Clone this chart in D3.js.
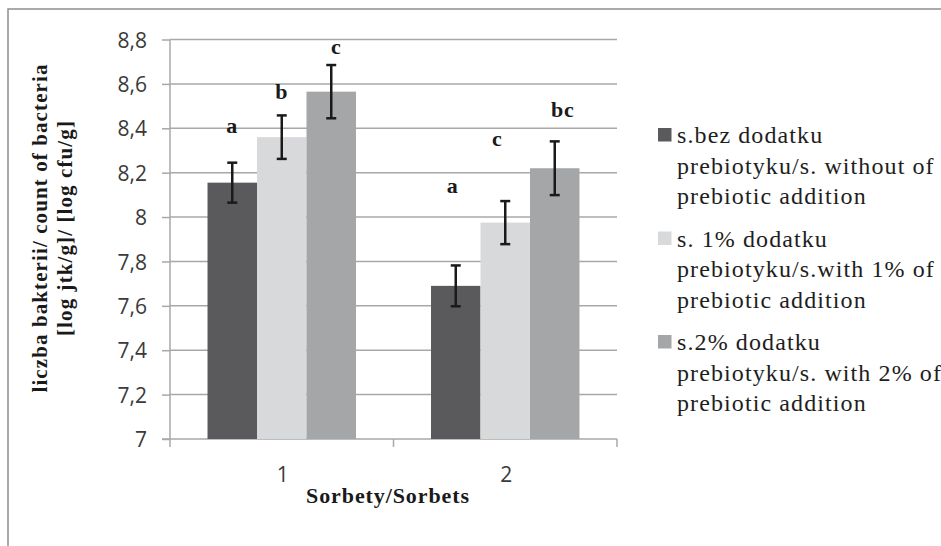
<!DOCTYPE html>
<html><head><meta charset="utf-8">
<script src="https://cdn.jsdelivr.net/npm/d3@7"></script>
<style>body{margin:0;background:#fff}svg{display:block}</style>
</head><body><svg id="c" width="941" height="546"></svg>
<script>
const categories = ["1", "2"];
const seriesNames = [
  ["s.bez dodatku", "prebiotyku/s. without of", "prebiotic addition"],
  ["s. 1% dodatku", "prebiotyku/s.with 1% of", "prebiotic addition"],
  ["s.2% dodatku", "prebiotyku/s. with 2% of", "prebiotic addition"]
];
const valuesWithout = [8.155, 7.69];
const values1pct = [8.36, 7.975];
const values2pct = [8.565, 8.22];
const errWithout = [0.09, 0.092];
const err1pct = [0.098, 0.097];
const err2pct = [0.12, 0.121];
const letters = [["a", "b", "c"], ["a", "c", "bc"]];
const letterLevels = [[8.377, 8.53, 8.733], [8.107, 8.319, 8.449]];
const yTicks = [7, 7.2, 7.4, 7.6, 7.8, 8, 8.2, 8.4, 8.6, 8.8];
const yTitle = ["liczba bakterii/ count of  bacteria", "[log jtk/g]/ [log cfu/g]"];
const xTitle = "Sorbety/Sorbets";

const seriesValues = [valuesWithout, values1pct, values2pct];
const seriesErr = [errWithout, err1pct, err2pct];
const colors = ["#5a5a5c", "#d8d9db", "#a5a6a8"];
const letterDx = [[0, 0, 5], [-3, -8, 8]];
const SERIF = "'Liberation Serif', 'Times New Roman', Times, serif";

const svg = d3.select("#c");
const L = 170, R = 617, T = 39.5, B = 439;
const y = d3.scaleLinear().domain([7, 8.8]).range([B, T]);
const x0 = d3.scaleBand().domain(categories).range([L, R]).paddingInner(0).paddingOuter(0);
const x1 = d3.scaleBand().domain([0, 1, 2]).range([0, x0.bandwidth()]).paddingInner(0).paddingOuter(0.758);

// outer border
svg.append("rect").attr("x", 8).attr("y", 9).attr("width", 1000).attr("height", 600)
  .attr("fill", "none").attr("stroke", "#8f8f8f").attr("stroke-width", 1.5);

// gridlines
svg.append("g").selectAll("line").data(yTicks.filter(t => t > 7)).join("line")
  .attr("x1", L).attr("x2", R).attr("y1", d => y(d)).attr("y2", d => y(d))
  .attr("stroke", "#a8a8a8").attr("stroke-width", 1.5);

// y axis
const yAxis = d3.axisLeft(y).tickValues(yTicks).tickSize(8).tickPadding(15)
  .tickFormat(d => String(+d.toFixed(1)).replace(".", ","));
const gy = svg.append("g").attr("transform", `translate(${L},0)`).call(yAxis);
gy.select(".domain").attr("stroke", "#a8a8a8").attr("stroke-width", 1.5).attr("d", `M0,${T}V${B}`);
gy.selectAll(".tick line").attr("stroke", "#a8a8a8").attr("stroke-width", 1.5);
gy.selectAll(".tick text").attr("font-family", "Open Sans").attr("font-size", 21)
  .attr("fill", "#3a3a3a").attr("dy", "0.36em");

// x axis
const gx = svg.append("g");
gx.append("line").attr("x1", L - 8).attr("x2", R).attr("y1", B).attr("y2", B)
  .attr("stroke", "#a8a8a8").attr("stroke-width", 1.5);
const bounds = categories.map(c => x0(c)).concat([x0(categories[categories.length - 1]) + x0.bandwidth()]);
gx.selectAll("line.tk").data(bounds).join("line").attr("class", "tk")
  .attr("x1", d => d).attr("x2", d => d).attr("y1", B).attr("y2", B + 8)
  .attr("stroke", "#a8a8a8").attr("stroke-width", 1.5);
gx.selectAll("text").data(categories).join("text")
  .attr("x", d => x0(d) + x0.bandwidth() / 2 + 1).attr("y", 482)
  .attr("text-anchor", "middle").attr("font-family", "Open Sans").attr("font-size", 21)
  .attr("fill", "#3a3a3a").text(d => d);

// bars
const groups = svg.append("g").selectAll("g").data(categories).join("g")
  .attr("transform", d => `translate(${x0(d)},0)`);
groups.each(function(c, ci) {
  const g = d3.select(this);
  const rows = seriesValues.map((vals, si) => ({ si, v: vals[ci], e: seriesErr[si][ci] }));
  g.selectAll("rect").data(rows).join("rect")
    .attr("x", d => x1(d.si)).attr("width", x1.bandwidth())
    .attr("y", d => y(d.v)).attr("height", d => y(7) - y(d.v))
    .attr("fill", d => colors[d.si]);
  const eb = g.selectAll("g.err").data(rows).join("g").attr("class", "err")
    .attr("transform", d => `translate(${x1(d.si) + x1.bandwidth() / 2},0)`);
  eb.append("line").attr("y1", d => y(d.v + d.e)).attr("y2", d => y(d.v - d.e));
  eb.append("line").attr("x1", -5).attr("x2", 5).attr("y1", d => y(d.v + d.e)).attr("y2", d => y(d.v + d.e));
  eb.append("line").attr("x1", -5).attr("x2", 5).attr("y1", d => y(d.v - d.e)).attr("y2", d => y(d.v - d.e));
  eb.selectAll("line").attr("stroke", "#1a1a1a").attr("stroke-width", 2.5);
  g.selectAll("text.lt").data(rows).join("text").attr("class", "lt")
    .attr("x", d => x1(d.si) + x1.bandwidth() / 2 + letterDx[ci][d.si])
    .attr("y", d => y(letterLevels[ci][d.si]))
    .attr("text-anchor", "middle").style("font-family", SERIF)
    .attr("font-weight", "bold").attr("font-size", 22).attr("letter-spacing", "0.8px")
    .attr("fill", "#1a1a1a")
    .text(d => letters[ci][d.si]);
});

// y title
const yt = svg.append("text").attr("transform", "translate(0,228) rotate(-90)")
  .attr("text-anchor", "middle").style("font-family", SERIF)
  .attr("font-weight", "bold").attr("font-size", 21).attr("fill", "#1a1a1a")
  .attr("letter-spacing", "1.1px");
yt.selectAll("tspan").data(yTitle).join("tspan")
  .attr("x", 0).attr("y", (d, i) => 47 + i * 25).text(d => d);

// x title
svg.append("text").attr("x", 388).attr("y", 503).attr("text-anchor", "middle")
  .style("font-family", SERIF).attr("font-weight", "bold").attr("font-size", 22)
  .attr("letter-spacing", "0.9px").attr("fill", "#1a1a1a").text(xTitle);

// legend
const lg = svg.append("g").selectAll("g").data(seriesNames).join("g")
  .attr("transform", (d, i) => `translate(658,${128 + i * 103.5})`);
lg.append("rect").attr("width", 13.5).attr("height", 13.5).attr("fill", (d, i) => colors[i]);
lg.each(function(lines) {
  d3.select(this).selectAll("text").data(lines).join("text")
    .attr("x", 19).attr("y", (d, i) => 15 + i * 30.5)
    .style("font-family", SERIF).attr("font-size", 24)
    .attr("letter-spacing", "1.1px").attr("fill", "#1e1e1e").text(d => d);
});
</script></body></html>
